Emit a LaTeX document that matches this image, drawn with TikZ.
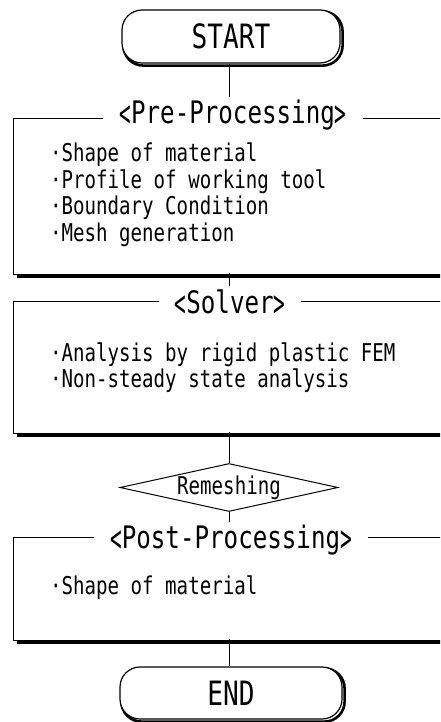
\documentclass[tikz,border=0pt]{standalone}
\usepackage{fontspec}
\usetikzlibrary{shapes.geometric,backgrounds}
\newfontfamily\gfont[FakeStretch=0.78]{DejaVu Sans Mono}
\newcommand{\lb}{\raisebox{-0.1em}{\scalebox{0.8}[1.2]{<}}}
\newcommand{\rb}{\raisebox{-0.1em}{\scalebox{0.8}[1.2]{>}}}
\begin{document}
\begin{tikzpicture}[x=1pt,y=-1pt,
  term/.style={draw, line width=1.2pt, rounded corners=20pt, fill=white,
    minimum width=218pt, minimum height=53pt, inner sep=0pt,
    font=\gfont\fontsize{33.5}{34}\selectfont},
  termshadow/.style={draw, line width=2.6pt, rounded corners=20pt},
  frame/.style={draw, line width=1pt, minimum width=437pt, anchor=north west, inner sep=0pt},
  frameshadow/.style={line width=3pt},
  title/.style={fill=white, inner xsep=16pt, inner ysep=3pt,
    font=\gfont\fontsize{31}{32}\selectfont},
  item/.style={anchor=west, inner sep=0pt, font=\gfont\fontsize{24.5}{25}\selectfont},
  decision/.style={draw, diamond, line width=1pt, aspect=4.6, inner sep=0pt,
    minimum width=218pt, minimum height=48pt, fill=white,
    font=\gfont\fontsize{24.5}{25}\selectfont},
  conn/.style={line width=1pt}
]
\useasboundingbox (0,0) rectangle (440,722);
\clip (0,0) rectangle (440,722);

% terminals
\node[term] (start) at (231,36.5) {START};
\node[term, minimum width=222pt, minimum height=52pt] (end) at (231,693) {END};

% frames
\node[frame, minimum height=156pt] (pre) at (13,118) {};
\node[frame, minimum height=132pt] (sol) at (13,301) {};
\node[frame, minimum height=103pt] (post) at (13,537) {};

\draw[frameshadow] ([shift={(4,1.6)}]pre.south west) -- ([shift={(0,1.6)}]pre.south east);
\draw[frameshadow] ([shift={(4,1.6)}]sol.south west) -- ([shift={(0,1.6)}]sol.south east);
\draw[frameshadow] ([shift={(4,1.6)}]post.south west) -- ([shift={(0,1.6)}]post.south east);

% titles
\node[title] (pret) at (233,115) {\lb Pre-Processing\rb};
\node[title] (solt) at (230,303) {\lb Solver\rb};
\node[title] (postt) at (231,540) {\lb Post-Processing\rb};

% items
\node[item] (p1) at (50,155) {·Shape of material};
\node[item] (p2) at (50,182) {·Profile of working tool};
\node[item] (p3) at (50,208) {·Boundary Condition};
\node[item] (p4) at (50,235) {·Mesh generation};
\node[item] (s1) at (50,355) {·Analysis by rigid plastic FEM};
\node[item] (s2) at (50,381) {·Non-steady state analysis};
\node[item] (q1) at (50,588) {·Shape of material};

% decision
\node[decision] (rem) at (229,487.5) {Remeshing};

% connectors
\draw[conn] (start.south -| rem) -- (pret.north -| rem);
\draw[conn] ([yshift=2.5pt]pre.south -| rem) -- (solt.north -| rem);
\draw[conn] ([yshift=2.5pt]sol.south -| rem) -- (rem.north);
\draw[conn] (rem.south) -- (postt.north -| rem);
\draw[conn] ([yshift=2.5pt]post.south -| rem) -- (end.north -| rem);

\begin{scope}[on background layer]
  \draw[termshadow] ([shift={(2,2)}]start.south west) rectangle ([shift={(2,2)}]start.north east);
  \draw[termshadow] ([shift={(2,2)}]end.south west) rectangle ([shift={(2,2)}]end.north east);
\end{scope}
\end{tikzpicture}
\end{document}
